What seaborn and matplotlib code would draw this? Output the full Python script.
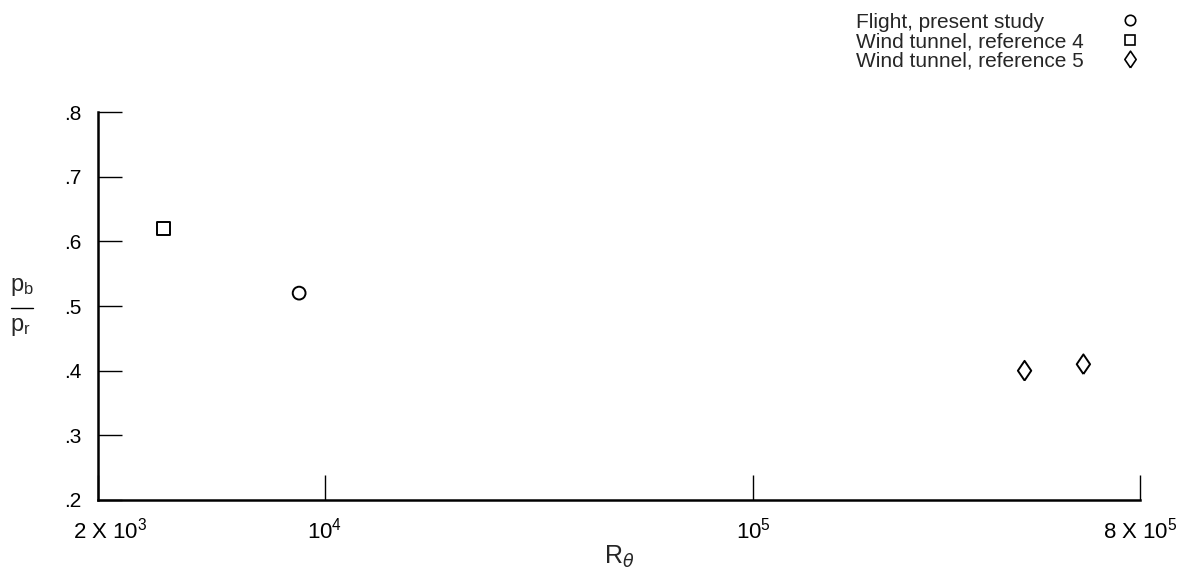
import numpy as np
import pandas as pd
import matplotlib
matplotlib.use("Agg")
import matplotlib.pyplot as plt
import seaborn as sns
from matplotlib.lines import Line2D
from matplotlib.ticker import FixedLocator, FixedFormatter
from matplotlib.transforms import ScaledTranslation

# Data
sources = ["Flight, present study", "Wind tunnel, reference 4",
           "Wind tunnel, reference 5", "Wind tunnel, reference 5"]
r_theta = [8.7e3, 4.2e3, 4.3e5, 5.9e5]
pb_pr = [0.52, 0.62, 0.40, 0.41]

legend_labels = ["Flight, present study", "Wind tunnel, reference 4", "Wind tunnel, reference 5"]
y_ticks = [0.2, 0.3, 0.4, 0.5, 0.6, 0.7, 0.8]
y_tick_labels = [".2", ".3", ".4", ".5", ".6", ".7", ".8"]
x_ticks = [2950, 1e4, 1e5, 8e5]
x_tick_labels = [r"2 X 10$^3$", r"10$^4$", r"10$^5$", r"8 X 10$^5$"]

df = pd.DataFrame({"source": sources, "r_theta": r_theta, "pb_pr": pb_pr})

sns.set_style("white")
plt.rcParams["font.family"] = ["Liberation Sans", "DejaVu Sans"]
plt.rcParams["mathtext.default"] = "regular"

diamond = [(0, -1), (0.68, 0), (0, 1), (-0.68, 0), (0, -1)]
marker_map = {legend_labels[0]: "o", legend_labels[1]: "s", legend_labels[2]: diamond}
size_map = {legend_labels[0]: 85, legend_labels[1]: 85, legend_labels[2]: 200}

fig = plt.figure(figsize=(11.95, 5.78), dpi=100)
ax = fig.add_axes([0.082, 0.135, 0.872, 0.671])

sns.scatterplot(data=df, x="r_theta", y="pb_pr", style="source", markers=marker_map,
                size="source", sizes=size_map, facecolor="none", edgecolor="black",
                linewidth=1.4, legend=False, ax=ax)
pts = ax.collections[0]
pts.set_facecolor("none")
pts.set_edgecolor("black")

ax.set_xscale("log")
ax.set_xlim(2950, 8e5)
ax.set_ylim(0.2, 0.8)

ax.xaxis.set_major_locator(FixedLocator(x_ticks))
ax.xaxis.set_major_formatter(FixedFormatter(x_tick_labels))
ax.xaxis.set_minor_locator(FixedLocator([]))
ax.yaxis.set_major_locator(FixedLocator(y_ticks))
ax.yaxis.set_major_formatter(FixedFormatter(y_tick_labels))

for side in ["top", "right"]:
    ax.spines[side].set_visible(False)
for side in ["left", "bottom"]:
    ax.spines[side].set_linewidth(1.8)
    ax.spines[side].set_color("black")

ax.tick_params(axis="y", left=True, direction="in", length=17, width=1.0, pad=12,
               labelsize=15, colors="black")
ax.tick_params(axis="x", bottom=True, direction="in", length=18, width=1.0, pad=13,
               labelsize=16, colors="black")

# the left-most label sits a little right of the axis corner in the original
first = ax.get_xticklabels()[0]
first.set_transform(first.get_transform() + ScaledTranslation(0.12, 0, fig.dpi_scale_trans))

ax.set_xlabel(r"R$_{\mathit{\theta}}$", fontsize=18, labelpad=0)
ax.set_ylabel("")

# y label drawn as a stacked fraction p_b / p_r
fig.text(10 / 1195, 1 - 298 / 578, r"p$_b$", fontsize=17, ha="left", va="bottom")
fig.add_artist(Line2D([11 / 1195, 33 / 1195], [1 - 308 / 578, 1 - 308 / 578],
                      transform=fig.transFigure, color="black", linewidth=1.0))
fig.text(10 / 1195, 1 - 316 / 578, r"p$_r$", fontsize=17, ha="left", va="top")

# Legend block, top right
leg_y = [1 - 22 / 578, 1 - 42 / 578, 1 - 61 / 578]
leg_markers = ["o", "s", diamond]
leg_ms = [7.5, 7.5, 12]
for lab, yy, mk, ms in zip(legend_labels, leg_y, leg_markers, leg_ms):
    fig.text(856 / 1195, yy, lab, fontsize=15, va="center", ha="left")
    fig.add_artist(Line2D([1130 / 1195], [yy + 0.004], transform=fig.transFigure, marker=mk,
                          markersize=ms, markerfacecolor="none", markeredgecolor="black",
                          markeredgewidth=1.2, linestyle="none"))

fig.savefig("out.png", dpi=100)
